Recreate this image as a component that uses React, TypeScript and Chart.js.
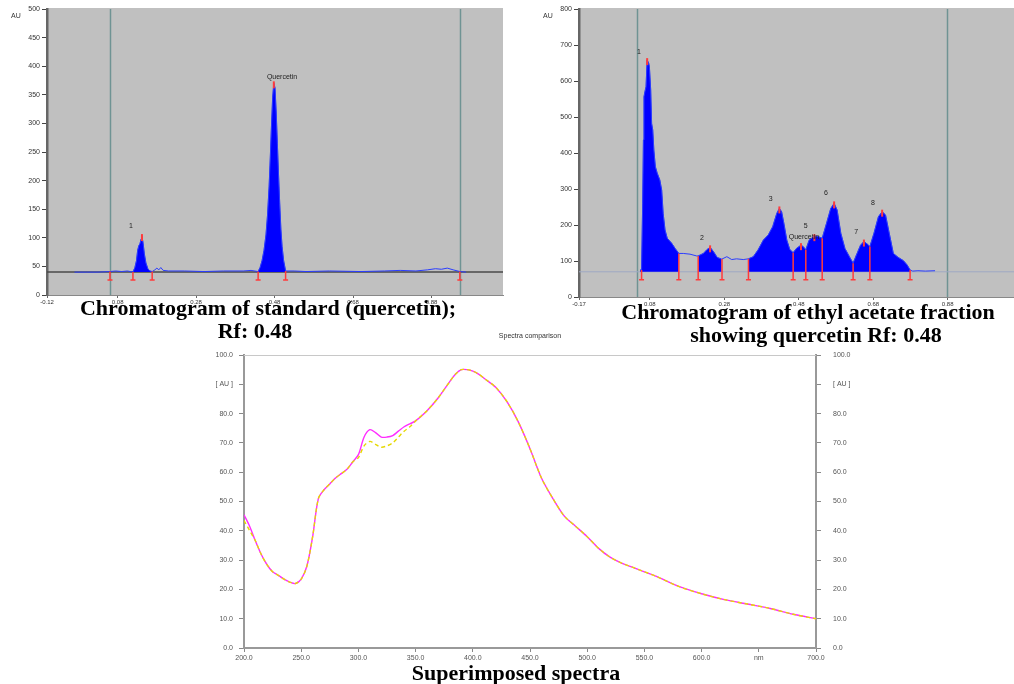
import React, { useEffect, useRef } from 'react';
import { Chart, registerables } from 'chart.js';
Chart.register(...registerables);

// ---------------- Chromatogram of standard (quercetin) ----------------
const stdTraceX = [-0.03, 0.0, 0.03, 0.06, 0.075, 0.09, 0.105, 0.119, 0.124, 0.128, 0.131, 0.134, 0.137, 0.14, 0.142, 0.145, 0.148, 0.152, 0.157, 0.162, 0.168, 0.175, 0.18, 0.185, 0.19, 0.196, 0.21, 0.25, 0.3, 0.35, 0.4, 0.42, 0.438, 0.443, 0.448, 0.453, 0.458, 0.462, 0.466, 0.469, 0.472, 0.475, 0.478, 0.481, 0.484, 0.487, 0.49, 0.493, 0.496, 0.499, 0.503, 0.508, 0.53, 0.56, 0.62, 0.7, 0.76, 0.8, 0.84, 0.87, 0.89, 0.905, 0.92, 0.935, 0.952, 0.968];
const stdTraceY = [40, 40, 40, 41, 42, 41, 42, 40, 48, 60, 78, 86, 90, 98, 103, 90, 72, 56, 46, 42, 41, 44, 47, 44, 48, 43, 42, 42, 41, 42, 42, 43, 41, 48, 60, 78, 105, 140, 190, 240, 295, 345, 370, 362, 320, 265, 210, 160, 115, 85, 60, 42, 42, 41, 42, 41, 42, 43, 42, 44, 46, 45, 47, 44, 41, 40];
const stdFillRanges = [[0.119, 0.168], [0.438, 0.508]];
const stdBaseline = 40;
const stdBoundaries = [0.0605, 0.119, 0.168, 0.438, 0.508, 0.952];
const stdPeakX = [0.142, 0.478];
const stdPeakY = [103, 370];
const stdLabels = ['1', 'Quercetin'];
const stdLabelX = [0.114, 0.499];
const stdLabelY = [121, 381];
const stdWindowX = [0.0605, 0.952];
const stdXTicks = [-0.1, 0.08, 0.28, 0.48, 0.68, 0.88];
const stdXTickLabels = ['-0.12', '0.08', '0.28', '0.48', '0.68', '0.88'];

// ---------------- Chromatogram of ethyl acetate fraction ----------------
const eaTraceX = [0.054, 0.058, 0.061, 0.063, 0.0645, 0.067, 0.07, 0.073, 0.077, 0.079, 0.0825, 0.085, 0.088, 0.091, 0.095, 0.1, 0.107, 0.112, 0.116, 0.121, 0.127, 0.139, 0.148, 0.158, 0.17, 0.188, 0.206, 0.21, 0.224, 0.234, 0.242, 0.251, 0.261, 0.273, 0.287, 0.3, 0.313, 0.331, 0.345, 0.358, 0.371, 0.385, 0.398, 0.41, 0.421, 0.428, 0.434, 0.44, 0.448, 0.456, 0.465, 0.474, 0.486, 0.492, 0.499, 0.508, 0.522, 0.532, 0.543, 0.555, 0.566, 0.575, 0.583, 0.593, 0.604, 0.616, 0.626, 0.635, 0.646, 0.655, 0.664, 0.671, 0.682, 0.694, 0.704, 0.713, 0.723, 0.734, 0.747, 0.761, 0.771, 0.779, 0.786, 0.8, 0.82, 0.846];
const eaTraceY = [75, 75, 260, 436, 556, 570, 584, 658, 650, 640, 575, 482, 464, 408, 362, 344, 325, 297, 232, 186, 163, 149, 135, 121, 121, 119, 114, 114, 121, 132, 138, 126, 110, 105, 112, 104, 106, 104, 106, 112, 131, 158, 172, 195, 232, 246, 237, 205, 158, 132, 123, 135, 144, 140, 131, 158, 169, 168, 163, 206, 246, 260, 242, 177, 135, 112, 94, 117, 144, 154, 147, 140, 177, 223, 237, 228, 177, 121, 110, 101, 89, 75, 72, 73, 72, 73];
const eaFillRanges = [[0.054, 0.158], [0.21, 0.273], [0.345, 0.779]];
const eaBaseline = 70;
const eaBoundaries = [0.058, 0.158, 0.21, 0.274, 0.345, 0.465, 0.499, 0.543, 0.626, 0.671, 0.779];
const eaPeakX = [0.073, 0.242, 0.428, 0.486, 0.522, 0.575, 0.655, 0.704];
const eaPeakY = [658, 138, 246, 144, 169, 260, 154, 237];
const eaLabels = ['1', '2', '3', 'Quercetin', '5', '6', '7', '8'];
const eaLabelX = [0.051, 0.22, 0.405, 0.494, 0.499, 0.553, 0.634, 0.679];
const eaLabelY = [681, 164, 272, 167, 197, 289, 181, 261];
const eaWindowX = [0.046, 0.878];
const eaXTicks = [-0.11, 0.08, 0.28, 0.48, 0.68, 0.88];
const eaXTickLabels = ['-0.17', '0.08', '0.28', '0.48', '0.68', '0.88'];

// ---------------- Superimposed spectra ----------------
const specNm = [200, 205, 210, 215, 220, 225, 230, 235, 240, 245, 250, 255, 260, 265, 270, 275, 280, 285, 290, 295, 300, 305, 310, 315, 320, 325, 330, 335, 340, 345, 350, 360, 370, 380, 385, 390, 395, 400, 405, 410, 420, 430, 440, 450, 460, 470, 480, 490, 500, 510, 520, 530, 540, 550, 560, 580, 600, 620, 640, 660, 680, 700];
const specStandardAU = [45.5, 41.5, 36.5, 32, 28.5, 26, 24.8, 23.5, 22.5, 22, 23.5, 28, 38, 51, 54, 56, 58, 59.5, 61, 63.5, 66, 72, 74.5, 73.5, 72, 72, 72.5, 74, 75.5, 76.5, 77.5, 81, 85.5, 91, 93.5, 95, 95, 94.5, 93.5, 92, 89, 84, 77, 68, 58, 51, 45, 41.5, 38, 34, 31, 29, 27.5, 26, 24.5, 21, 18.5, 16.5, 15, 13.5, 11.5, 10];
const specFractionAU = [43.5, 40, 36.5, 32, 28.5, 26, 24.8, 23.5, 22.5, 22, 23.5, 28, 38, 51, 54, 56, 58, 59.5, 61, 63.5, 65, 69, 70.5, 69.5, 68.5, 69, 70, 72, 74, 75.5, 77.5, 81, 85.5, 91, 93.5, 95, 95, 94.5, 93.5, 92, 89, 84, 77, 68, 58, 51, 45, 41.5, 38, 34, 31, 29, 27.5, 26, 24.5, 21, 18.5, 16.5, 15, 13.5, 11.5, 10];

// ---------------- helpers ----------------
const pts = (xs: number[], ys: number[]) => xs.map((x, i) => ({ x, y: ys[i] }));
const inRange = (xs: number[], ys: number[], a: number, b: number) =>
  pts(xs, ys).filter((p) => p.x >= a - 1e-9 && p.x <= b + 1e-9);
function interp(xs: number[], ys: number[], x: number) {
  if (x <= xs[0]) return ys[0];
  for (let i = 1; i < xs.length; i++) {
    if (x <= xs[i]) {
      const t = (x - xs[i - 1]) / (xs[i] - xs[i - 1]);
      return ys[i - 1] + t * (ys[i] - ys[i - 1]);
    }
  }
  return ys[ys.length - 1];
}

const TICK_FONT = 'Liberation Sans, Arial, sans-serif';

const decorPlugin: any = {
  id: 'decor',
  beforeDraw(chart: any, _a: any, o: any) {
    if (!o || !o.bg) return;
    const { ctx, chartArea: a } = chart;
    ctx.save();
    ctx.fillStyle = o.bg;
    ctx.fillRect(a.left, a.top - 1, a.right - a.left, a.bottom - a.top + 2);
    ctx.restore();
  },
  beforeDatasetsDraw(chart: any, _a: any, o: any) {
    if (!o) return;
    const { ctx, chartArea: a, scales } = chart;
    ctx.save();
    if (o.topLine) {
      ctx.strokeStyle = o.topLine;
      ctx.lineWidth = 1;
      ctx.beginPath();
      ctx.moveTo(a.left, a.top + 0.5);
      ctx.lineTo(a.right, a.top + 0.5);
      ctx.stroke();
    }
    if (o.windowX) {
      ctx.strokeStyle = o.windowColor;
      ctx.lineWidth = 1.5;
      o.windowX.forEach((v: number) => {
        const p = Math.round(scales.x.getPixelForValue(v)) + 0.5;
        ctx.beginPath();
        ctx.moveTo(p, a.top);
        ctx.lineTo(p, a.bottom);
        ctx.stroke();
      });
    }
    ctx.restore();
  },
  afterDatasetsDraw(chart: any, _a: any, o: any) {
    if (!o || !o.traceX) return;
    const { ctx, chartArea: a, scales } = chart;
    const x = scales.x;
    const y = scales.y;
    ctx.save();
    ctx.strokeStyle = '#ff3b3b';
    ctx.lineWidth = 1.5;
    const yb = y.getPixelForValue(o.baseline);
    o.boundaries.forEach((b: number) => {
      const px = x.getPixelForValue(b);
      const py = y.getPixelForValue(interp(o.traceX, o.traceY, b));
      ctx.beginPath();
      ctx.moveTo(px, py);
      ctx.lineTo(px, yb + 8);
      ctx.moveTo(px - 2.5, yb + 8);
      ctx.lineTo(px + 2.5, yb + 8);
      ctx.stroke();
    });
    ctx.lineWidth = 2;
    o.peakX.forEach((v: number, i: number) => {
      const px = x.getPixelForValue(v);
      const py = y.getPixelForValue(o.peakY[i]);
      ctx.beginPath();
      ctx.moveTo(px, py - 2);
      ctx.lineTo(px, py + 5);
      ctx.stroke();
    });
    ctx.fillStyle = '#222';
    ctx.font = '7px ' + TICK_FONT;
    ctx.textAlign = 'center';
    ctx.textBaseline = 'middle';
    o.labels.forEach((t: string, i: number) => {
      ctx.fillText(t, x.getPixelForValue(o.labelX[i]), y.getPixelForValue(o.labelY[i]));
    });
    ctx.textAlign = 'left';
    ctx.fillStyle = '#333';
    ctx.fillText(o.unit, a.left - 36, a.top + 7);
    ctx.restore();
  },
};

function chromConfig(p: any): any {
  return {
    type: 'line',
    data: {
      datasets: [
        { data: pts(p.traceX, p.traceY), borderColor: '#2a3cff', borderWidth: 1, pointRadius: 0, fill: false, tension: 0 },
        ...p.fillRanges.map((r: number[]) => ({
          data: inRange(p.traceX, p.traceY, r[0], r[1]),
          borderColor: '#0000ff',
          borderWidth: 0.5,
          backgroundColor: '#0000ff',
          fill: { value: p.baseline },
          pointRadius: 0,
          tension: 0,
        })),
        {
          data: [{ x: p.xMin, y: p.baseline }, { x: p.xMax, y: p.baseline }],
          borderColor: p.baseColor,
          borderWidth: p.baseWidth,
          pointRadius: 0,
          fill: false,
        },
      ],
    },
    options: {
      responsive: false,
      animation: false,
      devicePixelRatio: 1,
      events: [],
      layout: { padding: { top: p.padTop, right: p.padRight, left: 0, bottom: 0 } },
      plugins: {
        legend: { display: false },
        tooltip: { enabled: false },
        decor: {
          bg: '#c0c0c0',
          windowX: p.windowX,
          windowColor: '#6f9393',
          traceX: p.traceX,
          traceY: p.traceY,
          baseline: p.baseline,
          boundaries: p.boundaries,
          peakX: p.peakX,
          peakY: p.peakY,
          labels: p.labels,
          labelX: p.labelX,
          labelY: p.labelY,
          unit: 'AU',
        },
      },
      scales: {
        x: {
          type: 'linear',
          min: p.xMin,
          max: p.xMax,
          afterBuildTicks: (s: any) => {
            s.ticks = p.xTicks.map((v: number) => ({ value: v }));
          },
          afterFit: (s: any) => {
            s.height = p.xAxisH;
          },
          grid: { display: true, drawOnChartArea: false, tickLength: 3, color: '#666' },
          border: { display: true, color: '#888', width: 1 },
          ticks: {
            callback: (_v: any, i: number) => p.xTickLabels[i],
            font: { size: 6, family: TICK_FONT },
            color: '#333',
            padding: 1,
            maxRotation: 0,
            autoSkip: false,
          },
        },
        y: {
          type: 'linear',
          min: 0,
          max: p.yMax,
          afterFit: (s: any) => {
            s.width = p.yAxisW;
          },
          grid: { display: true, drawOnChartArea: false, tickLength: 5, color: '#444' },
          border: { display: true, color: '#666', width: 2.5 },
          ticks: { stepSize: p.yStep, font: { size: 7, family: TICK_FONT }, color: '#333', padding: 2 },
        },
      },
    },
    plugins: [decorPlugin],
  };
}

const makeStd = () =>
  chromConfig({
    traceX: stdTraceX, traceY: stdTraceY, fillRanges: stdFillRanges, baseline: stdBaseline,
    boundaries: stdBoundaries, peakX: stdPeakX, peakY: stdPeakY, labels: stdLabels,
    labelX: stdLabelX, labelY: stdLabelY, windowX: stdWindowX, xTicks: stdXTicks,
    xTickLabels: stdXTickLabels, xMin: -0.1, xMax: 1.062, yMax: 500, yStep: 50,
    baseColor: '#4a4a4a', baseWidth: 1.5, padTop: 9, padRight: 9, xAxisH: 17, yAxisW: 47,
  });

const makeEa = () =>
  chromConfig({
    traceX: eaTraceX, traceY: eaTraceY, fillRanges: eaFillRanges, baseline: eaBaseline,
    boundaries: eaBoundaries, peakX: eaPeakX, peakY: eaPeakY, labels: eaLabels,
    labelX: eaLabelX, labelY: eaLabelY, windowX: eaWindowX, xTicks: eaXTicks,
    xTickLabels: eaXTickLabels, xMin: -0.11, xMax: 1.058, yMax: 800, yStep: 100,
    baseColor: '#9ea8c4', baseWidth: 1, padTop: 9, padRight: 0, xAxisH: 15, yAxisW: 49,
  });

const specYTick = (v: any) => (v === 90 ? '[ AU ]' : Number(v).toFixed(1));

const makeSpec = (): any => ({
  type: 'line',
  data: {
    datasets: [
      { data: pts(specNm, specFractionAU), borderColor: '#e6d800', borderWidth: 1.4, borderDash: [4, 3], pointRadius: 0, fill: false, tension: 0.3 },
      { data: pts(specNm, specStandardAU), borderColor: '#ff2cff', borderWidth: 1.4, pointRadius: 0, fill: false, tension: 0.3 },
    ],
  },
  options: {
    responsive: false,
    animation: false,
    devicePixelRatio: 1,
    events: [],
    layout: { padding: { top: 25, right: 0, left: 0, bottom: 0 } },
    plugins: { legend: { display: false }, tooltip: { enabled: false }, decor: { topLine: '#c8c8c8' } },
    scales: {
      x: {
        type: 'linear',
        min: 200,
        max: 700,
        afterFit: (s: any) => {
          s.height = 22;
        },
        grid: { display: true, drawOnChartArea: false, tickLength: 4, color: '#888' },
        border: { display: true, color: '#999', width: 2 },
        ticks: {
          stepSize: 50,
          callback: (v: any) => (v === 650 ? 'nm' : Number(v).toFixed(1)),
          font: { size: 7, family: TICK_FONT },
          color: '#555',
          padding: 2,
          maxRotation: 0,
          autoSkip: false,
        },
      },
      y: {
        type: 'linear',
        min: 0,
        max: 100,
        afterFit: (s: any) => {
          s.width = 54;
        },
        grid: { display: true, drawOnChartArea: false, tickLength: 5, color: '#888' },
        border: { display: true, color: '#999', width: 2 },
        ticks: { stepSize: 10, callback: specYTick, font: { size: 7, family: TICK_FONT }, color: '#555', padding: 6 },
      },
      y2: {
        type: 'linear',
        position: 'right',
        min: 0,
        max: 100,
        afterFit: (s: any) => {
          s.width = 74;
        },
        grid: { display: true, drawOnChartArea: false, tickLength: 5, color: '#888' },
        border: { display: true, color: '#999', width: 2 },
        ticks: { stepSize: 10, callback: specYTick, font: { size: 7, family: TICK_FONT }, color: '#555', padding: 12 },
      },
    },
  },
  plugins: [decorPlugin],
});

function ChartBox({ left, top, width, height, make }: any) {
  const ref = useRef<HTMLCanvasElement | null>(null);
  useEffect(() => {
    const c = new Chart(ref.current as HTMLCanvasElement, make());
    return () => c.destroy();
  }, []);
  return (
    <canvas
      ref={ref}
      width={width}
      height={height}
      style={{ position: 'absolute', left, top, width, height, display: 'block' }}
    />
  );
}

const titleStyle: any = {
  position: 'absolute',
  fontFamily: '"Liberation Serif", "Times New Roman", serif',
  fontWeight: 'bold',
  fontSize: 22,
  lineHeight: '24px',
  color: '#000',
  textAlign: 'center',
  whiteSpace: 'nowrap',
};

export default function App() {
  return (
    <div style={{ position: 'absolute', left: 0, top: 0, width: 1014, height: 684, background: '#fff', overflow: 'hidden' }}>
      <ChartBox left={0} top={0} width={512} height={312} make={makeStd} />
      <ChartBox left={530} top={0} width={484} height={312} make={makeEa} />
      <ChartBox left={190} top={330} width={700} height={340} make={makeSpec} />
      <div style={{ ...titleStyle, left: 0, width: 536, top: 296 }}>Chromatogram of standard (quercetin);</div>
      <div style={{ ...titleStyle, left: 0, width: 510, top: 319 }}>Rf: 0.48</div>
      <div style={{ ...titleStyle, left: 608, width: 400, top: 300 }}>Chromatogram of ethyl acetate fraction</div>
      <div style={{ ...titleStyle, left: 616, width: 400, top: 323 }}>showing quercetin Rf: 0.48</div>
      <div style={{ ...titleStyle, left: 316, width: 400, top: 661 }}>Superimposed spectra</div>
      <div
        style={{
          position: 'absolute',
          left: 430,
          width: 200,
          top: 332,
          textAlign: 'center',
          fontFamily: TICK_FONT,
          fontSize: 7,
          color: '#333',
        }}
      >
        Spectra comparison
      </div>
    </div>
  );
}
